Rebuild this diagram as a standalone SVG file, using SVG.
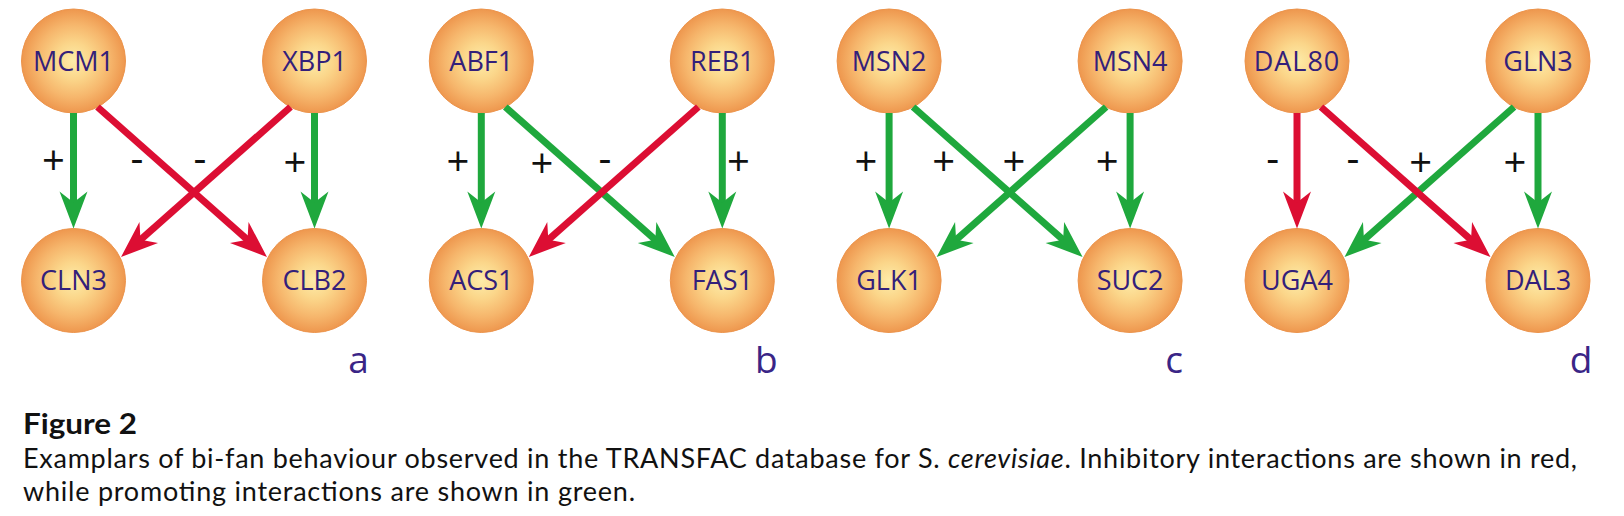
<svg xmlns="http://www.w3.org/2000/svg" width="1624" height="516" viewBox="0 0 1624 516">
<style>
.bg{fill:#ffffff}
.node{fill:url(#ball);stroke:#ec944c;stroke-width:1}
.nt{font-family:"Open Sans","Noto Sans",sans-serif;font-size:27px;fill:#33207a;text-anchor:middle}
.pl{font-family:"Open Sans","Noto Sans",sans-serif;font-size:37px;fill:#3a2586;text-anchor:middle}
.sg{font-family:"Open Sans","Noto Sans",sans-serif;font-size:40px;fill:#111111;text-anchor:middle}
.g{stroke:#1fa83d;stroke-width:7;fill:none;marker-end:url(#ag)}
.r{stroke:#dc0e33;stroke-width:7;fill:none;marker-end:url(#ar)}
.cap{font-family:Lato,"Open Sans",sans-serif;font-size:27px;fill:#111111}
.capb{font-family:Lato,"Open Sans",sans-serif;font-size:28px;font-weight:700;fill:#111111}
</style>
<defs>
<radialGradient id="ball" cx="0.5" cy="0.5" r="0.5">
<stop offset="0" stop-color="#fdeca9"/>
<stop offset="0.35" stop-color="#fbd68a"/>
<stop offset="0.7" stop-color="#f6b66c"/>
<stop offset="1" stop-color="#ee974e"/>
</radialGradient>
<marker id="ag" markerUnits="userSpaceOnUse" viewBox="-38 -15 40 30" refX="-24" refY="0" markerWidth="40" markerHeight="30" orient="auto">
<path d="M0,0 L-37,-14 L-26,0 L-37,14 Z" fill="#1fa83d"/>
</marker>
<marker id="ar" markerUnits="userSpaceOnUse" viewBox="-38 -15 40 30" refX="-24" refY="0" markerWidth="40" markerHeight="30" orient="auto">
<path d="M0,0 L-37,-14 L-26,0 L-37,14 Z" fill="#dc0e33"/>
</marker>
</defs>
<rect class="bg" x="0" y="0" width="1624" height="516"/>

<g id="MCM1"><circle class="node" cx="73.5" cy="61" r="52"/><text class="nt" x="73.5" y="70.5">MCM1</text></g>
<g id="XBP1"><circle class="node" cx="314.5" cy="61" r="52"/><text class="nt" x="314.5" y="70.5">XBP1</text></g>
<g id="CLN3"><circle class="node" cx="73.5" cy="280.5" r="52"/><text class="nt" x="73.5" y="290">CLN3</text></g>
<g id="CLB2"><circle class="node" cx="314.5" cy="280.5" r="52"/><text class="nt" x="314.5" y="290">CLB2</text></g>

<g id="ABF1"><circle class="node" cx="481.3" cy="61" r="52"/><text class="nt" x="481.3" y="70.5">ABF1</text></g>
<g id="REB1"><circle class="node" cx="722.3" cy="61" r="52"/><text class="nt" x="722.3" y="70.5">REB1</text></g>
<g id="ACS1"><circle class="node" cx="481.3" cy="280.5" r="52"/><text class="nt" x="481.3" y="290">ACS1</text></g>
<g id="FAS1"><circle class="node" cx="722.3" cy="280.5" r="52"/><text class="nt" x="722.3" y="290">FAS1</text></g>

<g id="MSN2"><circle class="node" cx="889.1" cy="61" r="52"/><text class="nt" x="889.1" y="70.5">MSN2</text></g>
<g id="MSN4"><circle class="node" cx="1130.1" cy="61" r="52"/><text class="nt" x="1130.1" y="70.5">MSN4</text></g>
<g id="GLK1"><circle class="node" cx="889.1" cy="280.5" r="52"/><text class="nt" x="889.1" y="290">GLK1</text></g>
<g id="SUC2"><circle class="node" cx="1130.1" cy="280.5" r="52"/><text class="nt" x="1130.1" y="290">SUC2</text></g>

<g id="DAL80"><circle class="node" cx="1297" cy="61" r="52"/><text class="nt" x="1297" y="70.5" letter-spacing="1">DAL80</text></g>
<g id="GLN3"><circle class="node" cx="1538" cy="61" r="52"/><text class="nt" x="1538" y="70.5">GLN3</text></g>
<g id="UGA4"><circle class="node" cx="1297" cy="280.5" r="52"/><text class="nt" x="1297" y="290">UGA4</text></g>
<g id="DAL3"><circle class="node" cx="1538" cy="280.5" r="52"/><text class="nt" x="1538" y="290">DAL3</text></g>

<g id="connectors">
<line class="g" x1="73.5" y1="113" x2="73.5" y2="204.5"/>
<line class="g" x1="314.5" y1="113" x2="314.5" y2="204.5"/>
<line class="r" x1="97.5" y1="107" x2="249" y2="241.1"/>
<line class="r" x1="290.5" y1="107" x2="139" y2="241.1"/>

<line class="g" x1="481.3" y1="113" x2="481.3" y2="204.5"/>
<line class="g" x1="722.3" y1="113" x2="722.3" y2="204.5"/>
<line class="g" x1="505.3" y1="107" x2="656.8" y2="241.1"/>
<line class="r" x1="698.3" y1="107" x2="546.8" y2="241.1"/>

<line class="g" x1="889.1" y1="113" x2="889.1" y2="204.5"/>
<line class="g" x1="1130.1" y1="113" x2="1130.1" y2="204.5"/>
<line class="g" x1="913.1" y1="107" x2="1064.6" y2="241.1"/>
<line class="g" x1="1106.1" y1="107" x2="954.6" y2="241.1"/>

<line class="r" x1="1297" y1="113" x2="1297" y2="204.5"/>
<line class="g" x1="1538" y1="113" x2="1538" y2="204.5"/>
<line class="g" x1="1514" y1="107" x2="1362.5" y2="241.1"/>
<line class="r" x1="1321" y1="107" x2="1472.5" y2="241.1"/>
</g>

<g id="signs">
<text class="sg" x="53.5" y="174.7">+</text>
<text class="sg" x="137" y="171.6">-</text>
<text class="sg" x="200" y="172.3">-</text>
<text class="sg" x="295" y="176.7">+</text>

<text class="sg" x="458" y="175.9">+</text>
<text class="sg" x="542" y="178.2">+</text>
<text class="sg" x="605" y="172.3">-</text>
<text class="sg" x="738.5" y="176.2">+</text>

<text class="sg" x="866" y="176.2">+</text>
<text class="sg" x="943.6" y="176.2">+</text>
<text class="sg" x="1014" y="176.2">+</text>
<text class="sg" x="1107.2" y="176.2">+</text>

<text class="sg" x="1272.7" y="171.6">-</text>
<text class="sg" x="1353" y="172.3">-</text>
<text class="sg" x="1420.7" y="177.2">+</text>
<text class="sg" x="1515" y="177.2">+</text>
</g>

<g id="panel-labels">
<text class="pl" x="358.5" y="373">a</text>
<text class="pl" x="766.3" y="373">b</text>
<text class="pl" x="1174.1" y="373">c</text>
<text class="pl" x="1581" y="373">d</text>
</g>

<g id="caption">
<text class="capb" x="23" y="434" textLength="114" lengthAdjust="spacingAndGlyphs">Figure 2</text>
<text class="cap" x="23" y="467.5" textLength="1554" lengthAdjust="spacing">Examplars of bi-fan behaviour observed in the TRANSFAC database for S. <tspan font-style="italic">cerevisiae</tspan>. Inhibitory interactions are shown in red,</text>
<text class="cap" x="23" y="501" textLength="612" lengthAdjust="spacing">while promoting interactions are shown in green.</text>
</g>
</svg>
